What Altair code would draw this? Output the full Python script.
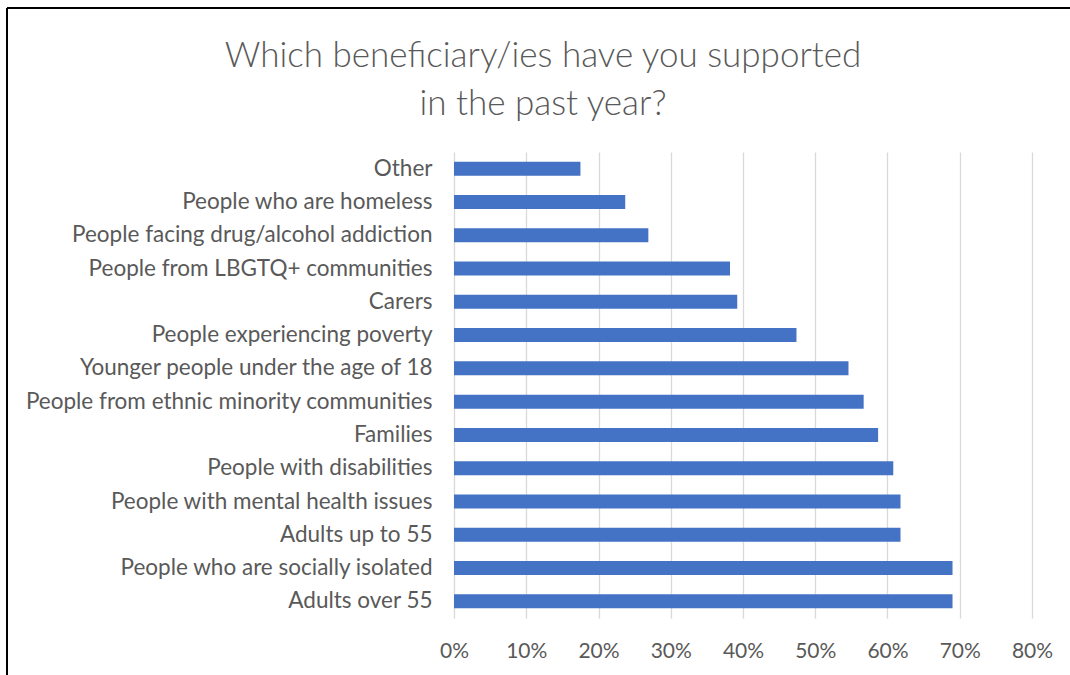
import altair as alt
import pandas as pd

categories = [
    "Other",
    "People who are homeless",
    "People facing drug/alcohol addiction",
    "People from LBGTQ+ communities",
    "Carers",
    "People experiencing poverty",
    "Younger people under the age of 18",
    "People from ethnic minority communities",
    "Families",
    "People with disabilities",
    "People with mental health issues",
    "Adults up to 55",
    "People who are socially isolated",
    "Adults over 55",
]
values = [0.175, 0.237, 0.269, 0.382, 0.392, 0.474, 0.546, 0.567, 0.587,
          0.608, 0.618, 0.618, 0.690, 0.690]
x_ticks = [0, 0.1, 0.2, 0.3, 0.4, 0.5, 0.6, 0.7, 0.8]
title_lines = ["Which beneficiary/ies have you supported", "in the past year?"]

df = pd.DataFrame({"category": categories, "value": values})

FONT = "Lato"
GREY = "#595959"

bars = alt.Chart(df).mark_bar(color="#4472C4").encode(
    x=alt.X("value:Q",
            scale=alt.Scale(domain=[0, 0.8], nice=False),
            axis=alt.Axis(values=x_ticks, format=".0%", title=None,
                          grid=True, gridColor="#d9d9d9", gridWidth=1.3,
                          domain=False, ticks=False, labelPadding=22,
                          labelFlush=False,
                          labelFont=FONT, labelFontSize=21, labelColor=GREY)),
    y=alt.Y("category:N", sort=categories,
            scale=alt.Scale(paddingInner=0.58, paddingOuter=0.29),
            axis=alt.Axis(title=None, domain=False, ticks=False,
                          labelPadding=22, labelFont=FONT, labelFontSize=22.5,
                          labelColor=GREY, labelLimit=500)),
)

frame = alt.Data(values=[{"k": 1}])
top_border = alt.Chart(frame).mark_rule(color="#000000", strokeWidth=2).encode(
    x=alt.value(-447), x2=alt.value(640), y=alt.value(-144))
left_border = alt.Chart(frame).mark_rule(color="#000000", strokeWidth=2).encode(
    x=alt.value(-447), y=alt.value(-144), y2=alt.value(540))

chart = alt.layer(bars, top_border, left_border).properties(
    width=578,
    height=466,
    padding={"left": 454, "top": 152, "right": 38, "bottom": 57},
    autosize=alt.AutoSizeParams(type="none"),
    title=alt.TitleParams(text=title_lines, anchor="middle", dx=-200,
                          offset=0, dy=115, font=FONT, fontSize=35,
                          fontWeight=300, color=GREY, lineHeight=48),
).configure(background="white").configure_view(stroke=None)

chart.save("out.html", embed_options={"renderer": "svg", "actions": False})
